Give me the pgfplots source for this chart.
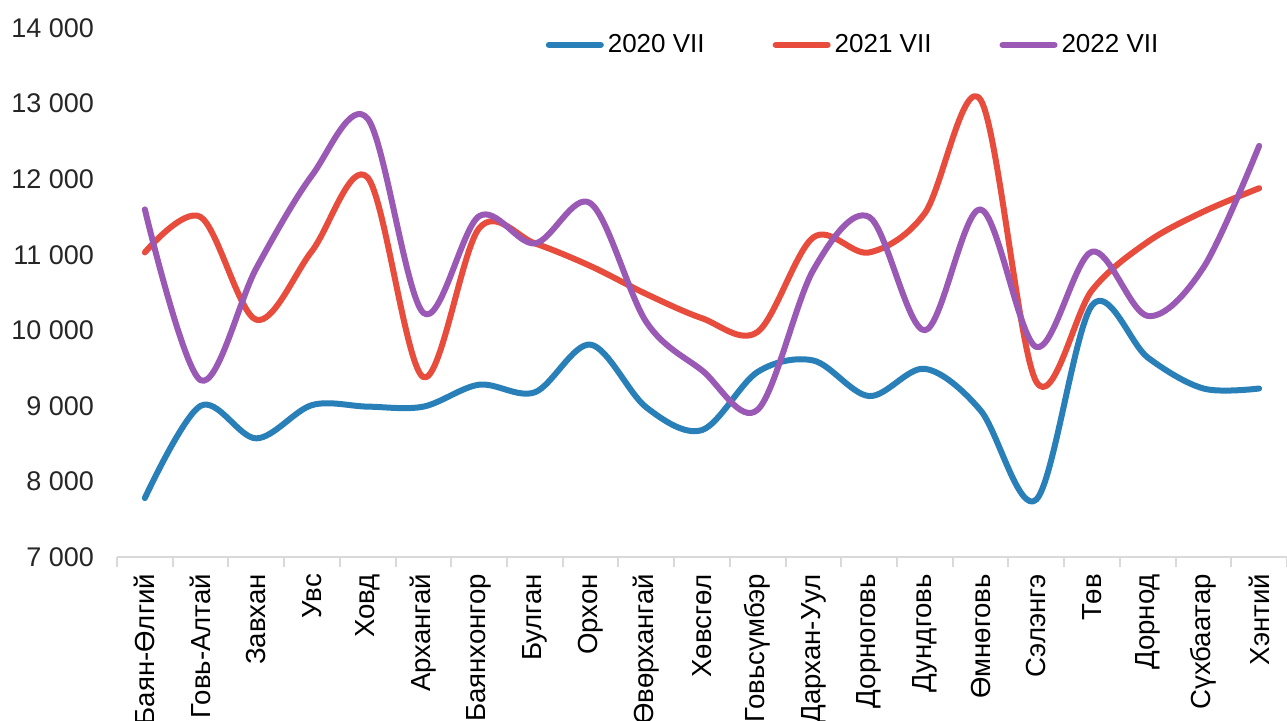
\documentclass[border=0pt]{standalone}
\usepackage{fontspec}
\setmainfont{Liberation Sans}
\usepackage{pgfplots}
\pgfplotsset{compat=1.18}
\definecolor{cblue}{HTML}{2980B9}
\definecolor{cred}{HTML}{E74C3C}
\definecolor{cpurple}{HTML}{9B59B6}
\definecolor{axgray}{HTML}{D9D9D9}
\begin{document}
\begin{tikzpicture}
\begin{axis}[
  scale only axis,
  width=585pt, height=264.5pt,
  xmin=-0.5, xmax=20.5,
  ymin=7000, ymax=14000,
  ytick={7000,8000,...,14000},
  scaled y ticks=false,
  yticklabel={\pgfmathprintnumber[fixed, precision=0, 1000 sep={\ }, assume math mode=true]{\tick}},
  axis x line*=bottom,
  axis y line*=left,
  y axis line style={draw=none},
  x axis line style={axgray, line width=1pt},
  ytick style={draw=none},
  yticklabel style={font=\fontsize{13.5}{14}\selectfont, text=black!85, xshift=-8pt},
  xtick={0,...,20},
  xticklabels={Баян-Өлгий,Говь-Алтай,Завхан,Увс,Ховд,Архангай,Баянхонгор,Булган,Орхон,Өвөрхангай,Хөвсгөл,Говьсүмбэр,Дархан-Уул,Дорноговь,Дундговь,Өмнөговь,Сэлэнгэ,Төв,Дорнод,Сүхбаатар,Хэнтий},
  xticklabel style={rotate=90, anchor=east, font=\fontsize{13.8}{15}\selectfont, text=black},
  xticklabel shift=5pt,
  major tick length=0pt,
  extra x ticks={-0.5,0.5,...,20.5},
  extra x tick labels={},
  extra x tick style={major tick length=5pt, tick align=outside, tick style={axgray, line width=1pt}},
  clip=false,
  legend columns=3,
  legend style={draw=none, fill=none, at={(rel axis cs:0.63,0.968)}, anchor=center,
    font=\fontsize{13}{14}\selectfont,
    /tikz/every even column/.append style={column sep=32pt}},
  legend image code/.code={\draw[#1, line cap=round] (0pt,0pt) -- (26pt,0pt);},
  every axis plot/.append style={line width=3pt, smooth, tension=0.55, line cap=round, line join=round, mark=none},
]
\addplot[cblue] coordinates {
(0,7780)(1,9000)(2,8570)(3,9010)(4,8990)(5,8990)(6,9280)(7,9180)(8,9810)(9,8980)(10,8680)(11,9450)(12,9600)(13,9130)(14,9490)(15,8940)(16,7760)(17,10330)(18,9640)(19,9230)(20,9230)};
\addlegendentry{2020 VII}
\addplot[cred] coordinates {
(0,11030)(1,11500)(2,10140)(3,11050)(4,12020)(5,9380)(6,11350)(7,11150)(8,10850)(9,10480)(10,10160)(11,9980)(12,11230)(13,11030)(14,11550)(15,13050)(16,9320)(17,10530)(18,11170)(19,11570)(20,11880)};
\addlegendentry{2021 VII}
\addplot[cpurple] coordinates {
(0,11600)(1,9340)(2,10820)(3,12050)(4,12800)(5,10230)(6,11510)(7,11150)(8,11680)(9,10110)(10,9470)(11,8950)(12,10800)(13,11500)(14,10000)(15,11600)(16,9780)(17,11040)(18,10190)(19,10830)(20,12440)};
\addlegendentry{2022 VII}
\end{axis}
\pgfresetboundingbox
\useasboundingbox (-58.5pt,-81.5pt) rectangle (585pt,278.5pt);
\end{tikzpicture}
\end{document}
